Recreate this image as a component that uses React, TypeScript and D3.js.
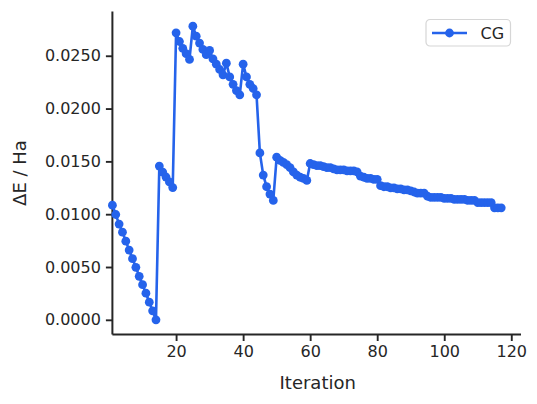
import { useEffect, useRef } from "react";
import * as d3 from "d3";

// ΔE per iteration for the CG run (iterations 1..117)
const cgDeltaE = [
  0.01085, 0.00997, 0.00906, 0.0083, 0.00745, 0.0066, 0.00579, 0.00497, 0.00412, 0.00333,
  0.00252, 0.00167, 0.00085, 0.0,
  0.01456, 0.01399, 0.01352, 0.01305, 0.01252,
  0.02717, 0.02635, 0.0257, 0.0252, 0.02465,
  0.0278, 0.02685, 0.0262, 0.0256, 0.0251, 0.0255,
  0.0247, 0.0242, 0.0237, 0.0232, 0.0243,
  0.023, 0.0223, 0.0217, 0.0213,
  0.0242, 0.023, 0.0223, 0.0219, 0.0213,
  0.0158, 0.0137, 0.0126, 0.0119, 0.0113,
  0.0154, 0.0151, 0.0149, 0.0147, 0.0144, 0.014, 0.0137, 0.0135, 0.0134, 0.0132,
  0.0148, 0.0147, 0.0146, 0.0146, 0.0145, 0.0144, 0.0144, 0.0143, 0.0142, 0.0142,
  0.0142, 0.0141, 0.0141, 0.0141, 0.014, 0.0136, 0.0135, 0.0134, 0.0134, 0.0133,
  0.0133, 0.0127, 0.0126, 0.0126, 0.0125, 0.0125, 0.0124, 0.0124, 0.0123, 0.0123,
  0.0122, 0.0121, 0.012, 0.012, 0.012, 0.0117, 0.0116, 0.0116, 0.0116, 0.0116,
  0.0115, 0.0115, 0.0115, 0.0114, 0.0114, 0.0114, 0.0114, 0.0113, 0.0113, 0.0113,
  0.0111, 0.0111, 0.0111, 0.0111, 0.0111, 0.0106, 0.0106, 0.0106,
];
const iterations = cgDeltaE.map((_, i) => i + 1);

const xTicks = [20, 40, 60, 80, 100, 120];
const yTicks = [0, 0.005, 0.01, 0.015, 0.02, 0.025];
const seriesName = "CG";

export default function App() {
  const chartRef = useRef<SVGSVGElement>(null);

  useEffect(() => {
    if (!chartRef.current) return;
    document.body.style.margin = "0";

    const svg = d3.select(chartRef.current);
    svg.selectAll("*").remove();

    const width = 537;
    const height = 404;
    const margin = { top: 11.5, right: 16, bottom: 69.5, left: 112.4 };
    const font = "DejaVu Sans, sans-serif";
    const ink = "#262626";
    const blue = "#2563eb";

    const data = iterations.map((it, i) => ({ it, v: cgDeltaE[i] }));

    const xMax = d3.max(iterations) || 0;
    const x = d3
      .scaleLinear()
      .domain([1, xMax + 0.05 * (xMax - 1) + 0.1])
      .range([margin.left, width - margin.right]);

    const [yMin, yMax] = d3.extent(cgDeltaE) as [number, number];
    const pad = 0.05 * (yMax - yMin);
    const y = d3
      .scaleLinear()
      .domain([yMin - pad, yMax + pad])
      .range([height - margin.bottom, margin.top]);

    svg.attr("width", width).attr("height", height).attr("viewBox", `0 0 ${width} ${height}`);

    // x axis
    const gx = svg
      .append("g")
      .attr("transform", `translate(0,${height - margin.bottom})`)
      .call(d3.axisBottom(x).tickValues(xTicks).tickSize(6.5).tickPadding(5).tickFormat(d3.format("d")));
    gx.select(".domain").attr("stroke", ink).attr("stroke-width", 2).attr("d", `M${margin.left},0H${width - margin.right}`);
    gx.selectAll(".tick line").attr("stroke", ink).attr("stroke-width", 1.9);
    gx.selectAll(".tick text").attr("fill", ink).style("font-family", font).style("font-size", "16px");

    // y axis
    const gy = svg
      .append("g")
      .attr("transform", `translate(${margin.left},0)`)
      .call(d3.axisLeft(y).tickValues(yTicks).tickSize(6.5).tickPadding(5).tickFormat(d3.format(".4f")));
    gy.select(".domain").attr("stroke", ink).attr("stroke-width", 2).attr("d", `M0,${margin.top}V${height - margin.bottom}`);
    gy.selectAll(".tick line").attr("stroke", ink).attr("stroke-width", 1.9);
    gy.selectAll(".tick text").attr("fill", ink).style("font-family", font).style("font-size", "16px");

    // axis labels
    svg
      .append("text")
      .attr("x", (margin.left + width - margin.right) / 2 + 1)
      .attr("y", 389)
      .attr("text-anchor", "middle")
      .attr("fill", ink)
      .style("font-family", font)
      .style("font-size", "18px")
      .text("Iteration");

    svg
      .append("text")
      .attr("transform", `translate(26,${(margin.top + height - margin.bottom) / 2}) rotate(-90)`)
      .attr("text-anchor", "middle")
      .attr("fill", ink)
      .style("font-family", font)
      .style("font-size", "18px")
      .text("ΔE / Ha");

    // line + markers
    const line = d3
      .line<{ it: number; v: number }>()
      .x((d) => x(d.it))
      .y((d) => y(d.v));

    svg
      .append("path")
      .datum(data)
      .attr("d", line)
      .attr("fill", "none")
      .attr("stroke", blue)
      .attr("stroke-width", 2.6)
      .attr("stroke-linejoin", "round");

    svg
      .append("g")
      .selectAll("circle")
      .data(data)
      .join("circle")
      .attr("cx", (d) => x(d.it))
      .attr("cy", (d) => y(d.v))
      .attr("r", 4.4)
      .attr("fill", blue);

    // legend
    const legend = svg.append("g").attr("transform", "translate(426,19.5)");
    legend
      .append("rect")
      .attr("width", 84.5)
      .attr("height", 26.5)
      .attr("rx", 4)
      .attr("fill", "#fff")
      .attr("fill-opacity", 0.8)
      .attr("stroke", "#d6d6d6")
      .attr("stroke-width", 1.2);
    legend
      .append("line")
      .attr("x1", 6)
      .attr("x2", 41)
      .attr("y1", 13.5)
      .attr("y2", 13.5)
      .attr("stroke", blue)
      .attr("stroke-width", 2.6);
    legend.append("circle").attr("cx", 23.5).attr("cy", 13.5).attr("r", 4.4).attr("fill", blue);
    legend
      .append("text")
      .attr("x", 54.5)
      .attr("y", 19.3)
      .attr("fill", ink)
      .style("font-family", font)
      .style("font-size", "16px")
      .text(seriesName);
  }, []);

  return <svg ref={chartRef} style={{ display: "block" }}></svg>;
}
